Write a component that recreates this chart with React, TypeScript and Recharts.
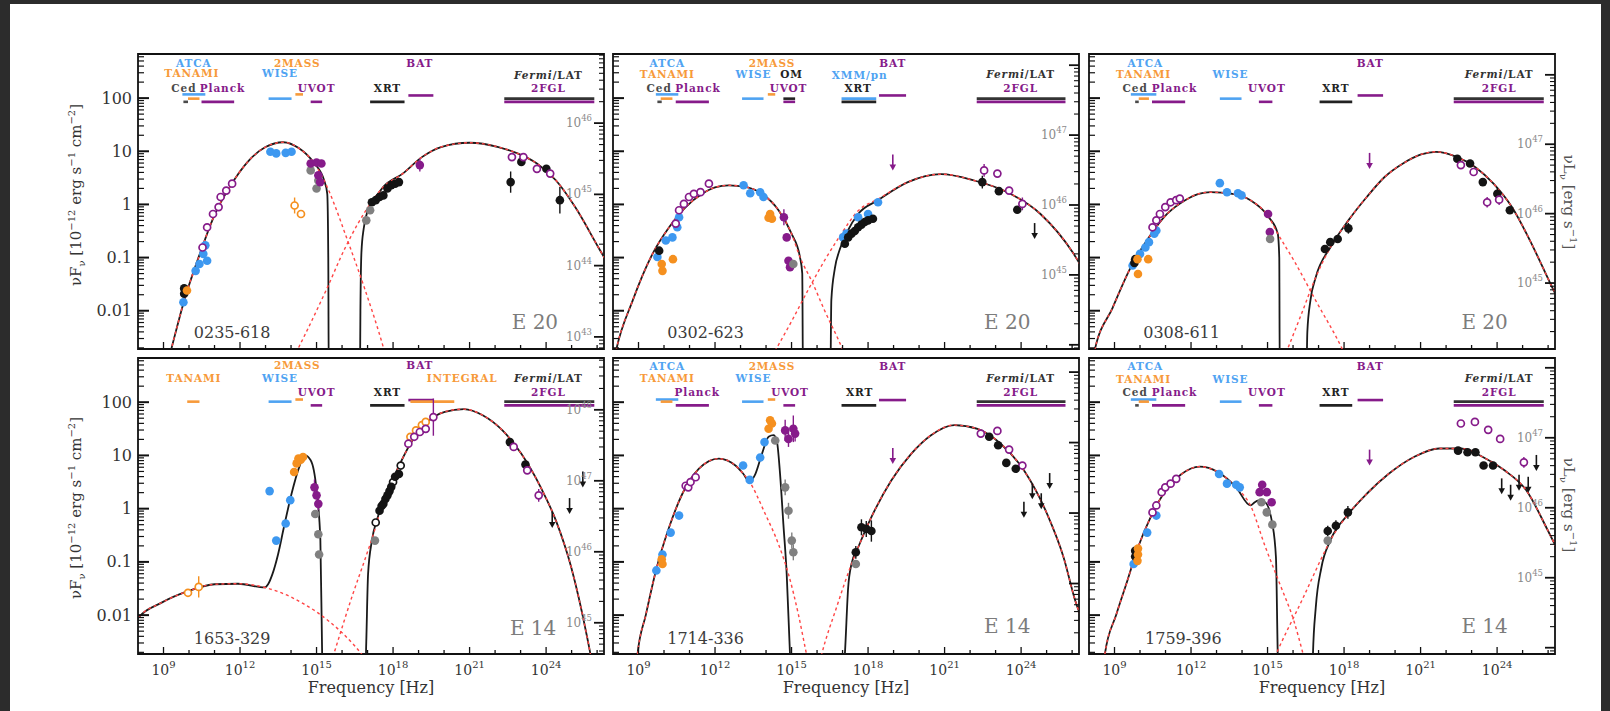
import React from "react";
import {
  ComposedChart,
  ErrorBar,
  Line,
  ReferenceArea,
  ReferenceLine,
  Scatter,
  XAxis,
  YAxis,
} from "recharts";

// [log10 ν (Hz), log10 νFν (1e-12 erg/s/cm²), optional error in dex]
type Pt = [number, number] | [number, number, number];
type Tag = [string, number, number];
type Band = [string, number, number, number];
type Kind =
  | "blue"
  | "orange"
  | "black"
  | "gray"
  | "purple"
  | "purpleOpen"
  | "orangeOpen"
  | "blackOpen"
  | "limBlack"
  | "limPurple";

const SERIF = "'DejaVu Serif', 'Liberation Serif', serif";
const BLUE = "#3d98f0";
const ORANGE = "#f5901f";
const PURPLE = "#861b8a";
const BLACK = "#141414";
const GRAY = "#808080";
const RED = "#ff4545";

const INST_COLOR: Record<string, string> = {
  ATCA: "#4fa3f2",
  TANAMI: "#f79a3a",
  Ced: "#4a4a4a",
  Planck: PURPLE,
  "2MASS": "#f79a3a",
  WISE: "#4fa3f2",
  OM: "#222",
  UVOT: PURPLE,
  BAT: PURPLE,
  "XMM/pn": "#4fa3f2",
  XRT: "#222",
  INTEGRAL: "#f79a3a",
  "Fermi/LAT": "#333",
  "2FGL": PURPLE,
};

const FREQ_DOMAIN: [number, number] = [8.0, 26.27];
const FREQ_TICKS = [9, 10, 11, 12, 13, 14, 15, 16, 17, 18, 19, 20, 21, 22, 23, 24, 25, 26];
const FREQ_LABELS = [9, 12, 15, 18, 21, 24];
const FLUX_LABELS = [-2, -1, 0, 1, 2];

// ---------- 0235-618 ----------
const tlTotal: Pt[] = [
  [9.1, -3.1], [9.29, -2.75], [9.81, -1.81], [10.41, -0.95], [11.0, -0.2], [11.6, 0.33],
  [12.3, 0.8], [13.0, 1.08], [13.7, 1.17], [14.3, 1.06], [14.9, 0.78], [15.3, 0.45],
  [15.42, 0.2], [15.46, -1.0], [15.48, -3.3], [16.7, -3.3], [16.72, -2.0], [16.76, -0.9],
  [16.85, -0.45], [17.02, -0.1], [17.3, 0.12], [17.62, 0.33], [18.38, 0.58], [19.13, 0.89],
  [19.88, 1.08], [21.0, 1.16], [22.13, 1.08], [22.88, 0.96], [23.64, 0.77], [24.39, 0.45],
  [25.14, -0.05], [26.04, -0.8], [26.4, -1.1],
];
const tlSync: Pt[] = [
  [9.1, -3.1], [9.29, -2.75], [9.81, -1.81], [10.41, -0.95], [11.0, -0.2], [11.6, 0.33],
  [12.3, 0.8], [13.0, 1.08], [13.7, 1.17], [14.3, 1.06], [14.9, 0.78], [15.3, 0.45],
  [15.7, 0.0], [16.12, -0.55], [16.87, -1.56], [17.62, -2.69], [17.8, -3.0],
];
const tlIC: Pt[] = [
  [14.0, -3.0], [14.24, -2.75], [14.62, -2.38], [15.37, -1.62], [16.12, -0.82], [16.6, -0.38],
  [17.02, -0.05], [17.62, 0.33], [18.38, 0.58], [19.13, 0.89], [19.88, 1.08], [21.0, 1.16],
  [22.13, 1.08], [22.88, 0.96], [23.64, 0.77], [24.39, 0.45], [25.14, -0.05], [26.04, -0.8],
  [26.4, -1.1],
];
const tlMarks: Partial<Record<Kind, Pt[]>> = {
  blue: [[9.78, -1.84], [10.26, -1.25], [10.41, -1.12], [10.56, -0.93], [10.64, -0.77], [10.71, -1.06],
    [13.19, 0.99], [13.42, 0.96], [13.79, 0.97], [14.02, 0.99]],
  black: [[9.81, -1.58], [9.81, -1.68], [17.17, 0.04], [17.32, 0.08], [17.47, 0.14], [17.62, 0.17],
    [17.78, 0.3], [17.93, 0.36], [18.08, 0.39], [18.23, 0.42], [23.03, 0.8], [24.01, 0.67],
    [22.61, 0.42, 0.2], [24.54, 0.08, 0.25]],
  orange: [[9.92, -1.62]],
  orangeOpen: [[14.14, -0.02, 0.15], [14.39, -0.18]],
  gray: [[14.77, 0.64], [15.0, 0.3], [15.07, 0.45], [17.1, -0.11], [16.95, -0.3]],
  purple: [[14.77, 0.77], [15.0, 0.79], [15.19, 0.77], [15.07, 0.55], [15.14, 0.42], [19.05, 0.74, 0.12]],
  purpleOpen: [[10.53, -0.81], [10.71, -0.43], [10.94, -0.18], [11.16, -0.05], [11.24, 0.14],
    [11.46, 0.26], [11.69, 0.39], [22.66, 0.89], [23.11, 0.89], [23.64, 0.67], [24.16, 0.58]],
};
const tlTags: Tag[] = [
  ["ATCA", 10.19, 2.67], ["TANAMI", 10.11, 2.47], ["Ced", 9.8, 2.19], ["Planck", 11.31, 2.19],
  ["2MASS", 14.24, 2.67], ["WISE", 13.57, 2.47], ["UVOT", 15.0, 2.19], ["BAT", 19.05, 2.67],
  ["XRT", 17.78, 2.19], ["Fermi/LAT", 24.09, 2.43], ["2FGL", 24.09, 2.19],
];
const tlBands: Band[] = [
  ["ATCA", 9.74, 10.64, 2.07], ["TANAMI", 9.96, 10.41, 1.99], ["Ced", 9.78, 9.96, 1.93],
  ["Planck", 10.49, 11.77, 1.93], ["WISE", 13.12, 14.02, 1.99], ["2MASS", 14.17, 14.47, 2.07],
  ["UVOT", 14.77, 15.22, 1.93], ["XRT", 17.1, 18.45, 1.93], ["BAT", 18.6, 19.58, 2.05],
  ["Fermi/LAT", 22.36, 25.89, 1.99], ["2FGL", 22.36, 25.89, 1.93],
];

// ---------- 0302-623 ----------
const tmTotal: Pt[] = [
  [7.9, -3.3], [8.12, -2.75], [8.77, -1.81], [9.55, -0.93], [10.2, -0.43], [10.85, -0.05],
  [11.5, 0.2], [12.0, 0.32], [12.54, 0.36], [13.19, 0.33], [13.84, 0.2], [14.49, -0.11],
  [15.0, -0.55], [15.33, -0.99], [15.42, -1.3], [15.45, -3.3], [16.52, -3.3], [16.56, -1.8],
  [16.7, -1.2], [16.89, -0.85], [17.2, -0.5], [17.61, -0.18], [18.39, 0.08], [19.56, 0.42],
  [20.86, 0.57], [22.16, 0.45], [23.46, 0.23], [24.76, -0.18], [26.06, -0.93], [26.4, -1.2],
];
const tmSync: Pt[] = [
  [7.9, -3.3], [8.12, -2.75], [8.77, -1.81], [9.55, -0.93], [10.2, -0.43], [10.85, -0.05],
  [11.5, 0.2], [12.0, 0.32], [12.54, 0.36], [13.19, 0.33], [13.84, 0.2], [14.49, -0.11],
  [15.0, -0.55], [15.33, -0.99], [15.8, -1.45], [16.3, -2.0], [17.02, -2.75], [17.3, -3.1],
];
const tmIC: Pt[] = [
  [14.0, -3.05], [14.36, -2.75], [15.0, -2.2], [15.66, -1.6], [16.3, -1.05], [16.89, -0.6],
  [17.61, -0.12], [18.39, 0.1], [19.56, 0.42], [20.86, 0.57], [22.16, 0.45], [23.46, 0.23],
  [24.76, -0.18], [26.06, -0.93], [26.4, -1.2],
];
const tmMarks: Partial<Record<Kind, Pt[]>> = {
  blue: [[9.74, -0.99], [10.07, -0.68], [10.33, -0.62], [10.52, -0.43], [10.59, -0.24],
    [13.12, 0.36], [13.38, 0.21], [13.77, 0.23], [13.9, 0.14], [17.02, -0.62], [17.15, -0.55],
    [17.61, -0.24], [18.0, -0.18], [18.39, 0.04]],
  black: [[9.81, -0.87], [17.09, -0.74], [17.22, -0.62], [17.35, -0.55], [17.48, -0.5],
    [17.61, -0.43], [17.74, -0.38], [17.87, -0.33], [18.0, -0.3], [18.19, -0.27],
    [22.48, 0.42, 0.12], [23.13, 0.25], [23.85, -0.1]],
  orange: [[9.91, -1.12], [9.94, -1.25], [10.35, -1.03], [14.16, -0.18], [14.23, -0.27], [14.1, -0.25]],
  purple: [[14.7, -0.24, 0.15], [14.81, -0.62], [14.88, -1.06], [14.94, -1.18]],
  gray: [[15.07, -1.12]],
  purpleOpen: [[10.46, -0.36], [10.59, -0.11], [10.78, 0.01], [10.98, 0.14], [11.17, 0.2],
    [11.43, 0.23], [11.76, 0.39], [23.07, 0.58], [23.53, 0.26], [24.05, 0.01, 0.12], [22.55, 0.64, 0.12]],
  limPurple: [[18.97, 0.77]],
  limBlack: [[24.53, -0.52]],
};
const tmTags: Tag[] = [
  ["ATCA", 10.13, 2.67], ["TANAMI", 10.13, 2.45], ["Ced", 9.81, 2.19], ["Planck", 11.33, 2.19],
  ["2MASS", 14.23, 2.67], ["WISE", 13.51, 2.45], ["OM", 15.0, 2.45], ["UVOT", 14.88, 2.19],
  ["BAT", 18.97, 2.67], ["XMM/pn", 17.67, 2.43], ["XRT", 17.61, 2.19],
  ["Fermi/LAT", 23.98, 2.45], ["2FGL", 23.98, 2.19],
];
const tmBands: Band[] = [
  ["ATCA", 9.68, 10.56, 2.07], ["TANAMI", 9.87, 10.33, 1.99], ["Ced", 9.74, 9.91, 1.93],
  ["Planck", 10.46, 11.76, 1.93], ["WISE", 13.06, 13.9, 1.99], ["2MASS", 14.07, 14.36, 2.07],
  ["OM", 14.68, 15.14, 1.99], ["UVOT", 14.68, 15.14, 1.93], ["XMM/pn", 16.96, 18.32, 1.99],
  ["XRT", 16.96, 18.32, 1.93], ["BAT", 18.43, 19.49, 2.05], ["Fermi/LAT", 22.26, 25.74, 1.99],
  ["2FGL", 22.26, 25.74, 1.93],
];

// ---------- 0308-611 ----------
const trTotal: Pt[] = [
  [8.0, -3.3], [8.22, -2.75], [8.93, -1.94], [9.64, -1.18], [10.35, -0.62], [11.06, -0.18],
  [11.77, 0.08], [12.3, 0.2], [12.77, 0.23], [13.62, 0.2], [14.33, 0.08], [15.05, -0.24],
  [15.4, -0.55], [15.46, -1.0], [15.48, -3.3], [16.52, -3.3], [16.56, -2.4], [16.68, -1.81],
  [16.89, -1.37], [17.46, -0.81], [18.17, -0.3], [18.89, 0.14], [19.6, 0.52], [20.31, 0.77],
  [21.02, 0.94], [21.59, 0.99], [22.44, 0.89], [23.15, 0.7], [23.86, 0.39], [24.58, -0.05],
  [25.29, -0.68], [26.07, -1.47], [26.4, -1.8],
];
const trSync: Pt[] = [
  [8.0, -3.3], [8.22, -2.75], [8.93, -1.94], [9.64, -1.18], [10.35, -0.62], [11.06, -0.18],
  [11.77, 0.08], [12.3, 0.2], [12.77, 0.23], [13.62, 0.2], [14.33, 0.08], [15.05, -0.24],
  [15.4, -0.55], [16.04, -1.06], [16.89, -1.81], [17.96, -2.75], [18.2, -3.0],
];
const trIC: Pt[] = [
  [15.55, -3.0], [15.76, -2.75], [16.33, -2.06], [16.89, -1.37], [17.46, -0.81], [18.17, -0.3],
  [18.89, 0.14], [19.6, 0.52], [20.31, 0.77], [21.02, 0.94], [21.59, 0.99], [22.44, 0.89],
  [23.15, 0.7], [23.86, 0.39], [24.58, -0.05], [25.29, -0.68], [26.07, -1.47], [26.4, -1.8],
];
const trMarks: Partial<Record<Kind, Pt[]>> = {
  blue: [[9.71, -1.15], [10.0, -0.93], [10.21, -0.81], [10.35, -0.71], [10.56, -0.55], [10.64, -0.49],
    [13.13, 0.4], [13.41, 0.23], [13.84, 0.21], [13.98, 0.17]],
  black: [[9.81, -1.03], [9.78, -1.1], [17.25, -0.84], [17.46, -0.71], [17.75, -0.65],
    [18.17, -0.45, 0.1], [22.44, 0.86], [22.94, 0.77], [23.44, 0.42], [24.01, 0.2, 0.12], [24.5, -0.11]],
  orange: [[9.9, -1.03], [9.92, -1.31], [10.32, -1.03]],
  purpleOpen: [[10.49, -0.43], [10.64, -0.3], [10.78, -0.18], [10.99, -0.05], [11.2, 0.04],
    [11.42, 0.08], [11.56, 0.11], [22.58, 0.74], [23.08, 0.61], [23.61, 0.04, 0.1], [24.08, 0.09, 0.1]],
  purple: [[15.02, -0.18], [15.09, -0.52]],
  gray: [[15.1, -0.65]],
  limPurple: [[19.0, 0.8]],
};
const trTags: Tag[] = [
  ["ATCA", 10.21, 2.67], ["TANAMI", 10.14, 2.45], ["Ced", 9.81, 2.19], ["Planck", 11.35, 2.19],
  ["WISE", 13.55, 2.45], ["UVOT", 14.97, 2.19], ["BAT", 19.03, 2.67], ["XRT", 17.68, 2.19],
  ["Fermi/LAT", 24.08, 2.45], ["2FGL", 24.08, 2.19],
];
const trBands: Band[] = [
  ["ATCA", 9.64, 10.64, 2.07], ["TANAMI", 9.95, 10.35, 1.99], ["Ced", 9.81, 9.95, 1.93],
  ["Planck", 10.47, 11.77, 1.93], ["WISE", 13.13, 13.98, 1.99], ["UVOT", 14.66, 15.19, 1.93],
  ["XRT", 17.04, 18.32, 1.93], ["BAT", 18.53, 19.53, 2.05], ["Fermi/LAT", 22.3, 25.83, 1.99],
  ["2FGL", 22.3, 25.83, 1.93],
];

// ---------- 1653-329 ----------
const blTotal: Pt[] = [
  [7.9, -2.12], [8.01, -2.05], [8.91, -1.77], [9.96, -1.55], [11.01, -1.42], [11.92, -1.41],
  [12.97, -1.48], [13.1, -1.42], [13.27, -1.23], [13.49, -0.86], [13.72, -0.35], [14.02, 0.28],
  [14.32, 0.78], [14.54, 1.0], [14.77, 0.91], [15.0, 0.35], [15.15, -0.59], [15.22, -2.74],
  [15.25, -3.3], [16.9, -3.3], [16.95, -2.5], [17.02, -1.23], [17.17, -0.6], [17.4, -0.16],
  [17.62, 0.15], [18.08, 0.65], [18.68, 1.22], [19.28, 1.6], [20.03, 1.82], [20.78, 1.87],
  [21.53, 1.75], [22.29, 1.47], [23.03, 1.03], [23.79, 0.4], [24.39, -0.23], [24.99, -1.11],
  [25.59, -2.37], [25.74, -2.74], [25.9, -3.2],
];
const blSync: Pt[] = [
  [7.9, -2.12], [8.01, -2.05], [8.91, -1.77], [9.96, -1.55], [11.01, -1.42], [11.92, -1.41],
  [12.97, -1.48], [13.5, -1.56], [14.0, -1.66], [14.5, -1.79], [15.0, -1.94], [15.5, -2.12],
  [16.0, -2.33], [16.5, -2.58], [17.0, -2.87],
];
const blIC: Pt[] = [
  [15.5, -3.0], [15.67, -2.74], [16.42, -1.61], [16.9, -0.95], [17.25, -0.45], [17.62, 0.15],
  [18.08, 0.65], [18.68, 1.22], [19.28, 1.6], [20.03, 1.82], [20.78, 1.87], [21.53, 1.75],
  [22.29, 1.47], [23.03, 1.03], [23.79, 0.4], [24.39, -0.23], [24.99, -1.11], [25.59, -2.37],
  [25.74, -2.74], [25.9, -3.2],
];
const blMarks: Partial<Record<Kind, Pt[]>> = {
  orangeOpen: [[9.96, -1.58, 0.06], [10.38, -1.47, 0.2], [18.68, 1.35], [18.9, 1.47], [19.13, 1.57], [19.28, 1.63]],
  blue: [[13.16, 0.33], [13.42, -0.6], [13.79, -0.28], [13.97, 0.16]],
  orange: [[14.12, 0.69], [14.22, 0.85], [14.29, 0.94], [14.38, 0.92], [14.47, 0.97]],
  purple: [[14.92, 0.4, 0.15], [15.0, 0.25], [15.07, 0.09, 0.12]],
  gray: [[14.95, -0.1], [15.07, -0.48], [15.1, -0.86], [17.29, -0.6]],
  blackOpen: [[17.32, -0.26], [18.0, 0.5], [18.3, 0.81]],
  black: [[17.47, -0.04], [17.55, 0.05], [17.62, 0.09], [17.7, 0.18], [17.78, 0.25], [17.86, 0.33],
    [17.93, 0.41], [18.08, 0.6], [18.23, 0.65], [22.58, 1.25], [23.19, 0.83]],
  purpleOpen: [[18.6, 1.22], [18.83, 1.35], [19.05, 1.44], [19.28, 1.5], [19.58, 1.72, 0.35],
    [22.73, 1.16], [23.26, 0.72], [23.71, 0.25, 0.12]],
  limBlack: [[24.24, -0.23], [24.92, 0.03], [25.44, 0.53]],
};
const blTags: Tag[] = [
  ["TANAMI", 10.19, 2.45], ["2MASS", 14.24, 2.7], ["WISE", 13.57, 2.45], ["UVOT", 15.0, 2.19],
  ["BAT", 19.05, 2.7], ["INTEGRAL", 20.71, 2.45], ["XRT", 17.78, 2.19],
  ["Fermi/LAT", 24.09, 2.45], ["2FGL", 24.09, 2.19],
];
const blBands: Band[] = [
  ["TANAMI", 9.93, 10.41, 2.01], ["WISE", 13.12, 14.02, 2.01], ["2MASS", 14.17, 14.47, 2.05],
  ["UVOT", 14.77, 15.22, 1.94], ["XRT", 17.1, 18.45, 1.94], ["BAT", 18.6, 19.58, 2.04],
  ["INTEGRAL", 18.68, 20.4, 2.01], ["Fermi/LAT", 22.36, 25.89, 2.01], ["2FGL", 22.36, 25.89, 1.94],
];

// ---------- 1714-336 ----------
const bmTotal: Pt[] = [
  [8.85, -3.3], [8.96, -2.74], [9.29, -1.99], [9.68, -1.17], [10.2, -0.35], [10.72, 0.28],
  [11.37, 0.75], [12.15, 0.94], [12.8, 0.81], [13.1, 0.66], [13.32, 0.53], [13.45, 0.55],
  [13.58, 0.65], [13.84, 1.03], [14.1, 1.35], [14.29, 1.38], [14.42, 1.28], [14.55, 0.65],
  [14.68, -0.29], [14.81, -1.23], [14.94, -2.74], [15.0, -3.3], [17.0, -3.3], [17.09, -2.74],
  [17.22, -1.48], [17.35, -1.04], [17.61, -0.73], [18.13, -0.16], [18.91, 0.53], [19.69, 1.03],
  [20.47, 1.38], [21.38, 1.57], [22.29, 1.5], [23.2, 1.22], [24.11, 0.72], [25.02, -0.1],
  [25.67, -0.92], [26.13, -1.74], [26.4, -2.1],
];
const bmSync: Pt[] = [
  [8.85, -3.3], [8.96, -2.74], [9.29, -1.99], [9.68, -1.17], [10.2, -0.35], [10.72, 0.28],
  [11.37, 0.75], [12.15, 0.94], [12.8, 0.81], [13.1, 0.66], [13.32, 0.53], [13.97, -0.1],
  [14.49, -0.67], [14.88, -1.23], [15.27, -1.99], [15.59, -2.74], [15.75, -3.1],
];
const bmIC: Pt[] = [
  [16.0, -3.1], [16.18, -2.74], [16.76, -1.86], [17.35, -1.04], [17.61, -0.73], [18.13, -0.16],
  [18.91, 0.53], [19.69, 1.03], [20.47, 1.38], [21.38, 1.57], [22.29, 1.5], [23.2, 1.22],
  [24.11, 0.72], [25.02, -0.1], [25.67, -0.92], [26.13, -1.74], [26.4, -2.1],
];
const bmMarks: Partial<Record<Kind, Pt[]>> = {
  blue: [[9.7, -1.16], [9.94, -0.86], [10.26, -0.45], [10.59, -0.13], [13.1, 0.81], [13.36, 0.54],
    [13.77, 0.96], [13.94, 1.25]],
  orange: [[9.91, -0.95], [9.94, -1.04], [14.1, 1.5], [14.23, 1.6], [14.16, 1.66]],
  purpleOpen: [[10.85, 0.43], [10.95, 0.4], [11.04, 0.5], [11.24, 0.59], [22.42, 1.41],
    [23.07, 1.46], [23.53, 1.11], [24.05, 0.81]],
  gray: [[14.36, 1.28], [14.75, 0.4, 0.15], [14.88, -0.04, 0.15], [15.01, -0.6, 0.15], [15.07, -0.82, 0.15], [17.52, -1.04]],
  purple: [[14.75, 1.47, 0.2], [14.88, 1.31, 0.15], [15.07, 1.5, 0.25], [15.14, 1.41, 0.15]],
  black: [[17.52, -0.82, 0.12], [17.74, -0.35, 0.15], [17.93, -0.38, 0.15], [18.13, -0.42, 0.2],
    [22.75, 1.35], [23.1, 1.19], [23.42, 0.86], [23.79, 0.75]],
  limPurple: [[18.97, 0.97]],
  limBlack: [[24.11, -0.04], [24.44, 0.31], [24.79, 0.12], [25.12, 0.5]],
};
const bmTags: Tag[] = [
  ["ATCA", 10.13, 2.68], ["TANAMI", 10.13, 2.45], ["Planck", 11.3, 2.19], ["2MASS", 14.23, 2.68],
  ["WISE", 13.51, 2.45], ["UVOT", 14.94, 2.19], ["BAT", 18.97, 2.68], ["XRT", 17.67, 2.19],
  ["Fermi/LAT", 23.98, 2.45], ["2FGL", 23.98, 2.19],
];
const bmBands: Band[] = [
  ["ATCA", 9.68, 10.56, 2.05], ["TANAMI", 9.87, 10.33, 2.01], ["Planck", 10.46, 11.76, 1.94],
  ["WISE", 13.06, 13.9, 2.01], ["2MASS", 14.07, 14.36, 2.05], ["UVOT", 14.68, 15.14, 1.94],
  ["XRT", 16.96, 18.32, 1.94], ["BAT", 18.43, 19.49, 2.04], ["Fermi/LAT", 22.26, 25.74, 2.01],
  ["2FGL", 22.26, 25.74, 1.94],
];

// ---------- 1759-396 ----------
const brTotal: Pt[] = [
  [8.5, -3.3], [8.62, -2.74], [9.07, -1.99], [9.5, -1.36], [9.92, -0.73], [10.35, -0.23],
  [10.92, 0.28], [11.63, 0.65], [12.34, 0.79], [13.05, 0.69], [13.77, 0.4], [14.33, 0.06],
  [14.5, 0.12], [14.62, 0.15], [14.9, 0.12], [15.19, -0.29], [15.33, -0.92], [15.4, -2.74],
  [15.43, -3.3], [16.75, -3.3], [16.78, -2.74], [16.89, -1.86], [17.11, -1.11], [17.46, -0.6],
  [18.17, -0.1], [18.89, 0.28], [19.74, 0.65], [20.74, 0.97], [21.73, 1.13], [22.58, 1.13],
  [23.44, 0.97], [24.29, 0.72], [25.15, 0.34], [26.0, -0.42], [26.4, -0.8],
];
const brSync: Pt[] = [
  [8.5, -3.3], [8.62, -2.74], [9.07, -1.99], [9.5, -1.36], [9.92, -0.73], [10.35, -0.23],
  [10.92, 0.28], [11.63, 0.65], [12.34, 0.79], [13.05, 0.69], [13.77, 0.4], [14.33, 0.06],
  [14.9, -0.7], [15.47, -1.4], [16.04, -2.12], [16.4, -2.74], [16.6, -3.1],
];
const brIC: Pt[] = [
  [15.1, -3.0], [15.33, -2.74], [16.33, -1.74], [17.32, -0.73], [17.46, -0.6], [18.17, -0.1],
  [18.89, 0.28], [19.74, 0.65], [20.74, 0.97], [21.73, 1.13], [22.58, 1.13], [23.44, 0.97],
  [24.29, 0.72], [25.15, 0.34], [26.0, -0.42], [26.4, -0.8],
];
const brMarks: Partial<Record<Kind, Pt[]>> = {
  blue: [[9.75, -1.04], [10.28, -0.45], [10.64, -0.13], [13.1, 0.65], [13.41, 0.47], [13.77, 0.45], [13.91, 0.4]],
  black: [[9.81, -0.79], [9.81, -0.9], [17.36, -0.42, 0.1], [17.68, -0.32, 0.1], [18.15, -0.07, 0.12],
    [22.47, 1.09], [22.84, 1.06], [23.15, 1.06], [23.47, 0.81], [23.84, 0.81]],
  orange: [[9.92, -0.86], [9.9, -0.98], [9.92, -0.75]],
  purpleOpen: [[10.49, -0.07], [10.64, 0.06], [10.85, 0.31], [10.99, 0.4], [11.2, 0.47], [11.42, 0.56],
    [22.58, 1.6], [23.13, 1.63], [23.65, 1.48], [24.12, 1.31], [25.05, 0.87, 0.1]],
  purple: [[14.79, 0.45], [14.69, 0.31], [14.97, 0.31], [15.16, 0.12]],
  gray: [[14.76, 0.12], [14.97, -0.07], [15.19, -0.3], [17.36, -0.6]],
  limPurple: [[19.0, 0.94]],
  limBlack: [[24.18, 0.4], [24.53, 0.28], [24.86, 0.47], [25.22, 0.43], [25.54, 0.84]],
};
const brTags: Tag[] = [
  ["ATCA", 10.21, 2.68], ["TANAMI", 10.14, 2.43], ["Ced", 9.81, 2.19], ["Planck", 11.35, 2.19],
  ["WISE", 13.55, 2.43], ["UVOT", 14.97, 2.19], ["BAT", 19.03, 2.68], ["XRT", 17.68, 2.19],
  ["Fermi/LAT", 24.08, 2.45], ["2FGL", 24.08, 2.19],
];
const brBands: Band[] = [
  ["ATCA", 9.64, 10.64, 2.05], ["TANAMI", 9.95, 10.35, 2.01], ["Ced", 9.81, 9.95, 1.94],
  ["Planck", 10.47, 11.77, 1.94], ["WISE", 13.13, 13.98, 2.01], ["UVOT", 14.66, 15.19, 1.94],
  ["XRT", 17.04, 18.32, 1.94], ["BAT", 18.53, 19.53, 2.04], ["Fermi/LAT", 22.3, 25.83, 2.01],
  ["2FGL", 22.3, 25.83, 1.94],
];

type PanelCfg = {
  name: string;
  era: string;
  left: number;
  top: number;
  height: number;
  flux: [number, number];
  lum: [number, number];
  lumLabels: number[];
  showX: boolean;
  showY: boolean;
  total: Pt[];
  sync: Pt[];
  ic: Pt[];
  marks: Partial<Record<Kind, Pt[]>>;
  tags: Tag[];
  bands: Band[];
  nameAt: [number, number];
  eraAt: [number, number];
};

const PANELS: PanelCfg[] = [
  { name: "0235-618", era: "E 20", left: 138, top: 54, height: 295, flux: [-2.72, 2.83], lum: [42.83, 46.97],
    lumLabels: [43, 44, 45, 46], showX: false, showY: true, total: tlTotal, sync: tlSync, ic: tlIC, marks: tlMarks,
    tags: tlTags, bands: tlBands, nameAt: [11.69, -2.41], eraAt: [23.56, -2.22] },
  { name: "0302-623", era: "E 20", left: 613, top: 54, height: 295, flux: [-2.72, 2.83], lum: [43.94, 48.16],
    lumLabels: [45, 46, 47], showX: false, showY: false, total: tmTotal, sync: tmSync, ic: tmIC, marks: tmMarks,
    tags: tmTags, bands: tmBands, nameAt: [11.63, -2.41], eraAt: [23.46, -2.22] },
  { name: "0308-611", era: "E 20", left: 1089, top: 54, height: 295, flux: [-2.72, 2.83], lum: [44.05, 48.3],
    lumLabels: [45, 46, 47], showX: false, showY: false, total: trTotal, sync: trSync, ic: trIC, marks: trMarks,
    tags: trTags, bands: trBands, nameAt: [11.63, -2.41], eraAt: [23.51, -2.22] },
  { name: "1653-329", era: "E 14", left: 138, top: 358, height: 296, flux: [-2.73, 2.83], lum: [44.56, 48.73],
    lumLabels: [45, 46, 47, 48], showX: true, showY: true, total: blTotal, sync: blSync, ic: blIC, marks: blMarks,
    tags: blTags, bands: blBands, nameAt: [11.69, -2.43], eraAt: [23.49, -2.24] },
  { name: "1714-336", era: "E 14", left: 613, top: 358, height: 296, flux: [-2.73, 2.83], lum: [44.0, 48.2],
    lumLabels: [], showX: true, showY: false, total: bmTotal, sync: bmSync, ic: bmIC, marks: bmMarks,
    tags: bmTags, bands: bmBands, nameAt: [11.63, -2.43], eraAt: [23.46, -2.21] },
  { name: "1759-396", era: "E 14", left: 1089, top: 358, height: 296, flux: [-2.73, 2.83], lum: [43.91, 48.14],
    lumLabels: [45, 46, 47], showX: true, showY: false, total: brTotal, sync: brSync, ic: brIC, marks: brMarks,
    tags: brTags, bands: brBands, nameAt: [11.7, -2.43], eraAt: [23.51, -2.21] },
];

const KIND_STYLE: Record<Kind, { color: string; shape: "dot" | "open" | "limit" }> = {
  blue: { color: BLUE, shape: "dot" },
  orange: { color: ORANGE, shape: "dot" },
  black: { color: BLACK, shape: "dot" },
  gray: { color: GRAY, shape: "dot" },
  purple: { color: PURPLE, shape: "dot" },
  purpleOpen: { color: PURPLE, shape: "open" },
  orangeOpen: { color: ORANGE, shape: "open" },
  blackOpen: { color: BLACK, shape: "open" },
  limBlack: { color: BLACK, shape: "limit" },
  limPurple: { color: PURPLE, shape: "limit" },
};

const W = 466;
const ML = 100;
const MR = 12;
const MT = 6;
const MB = 50;
const AX = 2; // thickness given to each axis band (Recharts skips axes of zero size)

function logTicks(lo: number, hi: number) {
  const out: number[] = [];
  for (let d = Math.floor(lo); d <= Math.ceil(hi); d++) {
    for (let k = 1; k < 10; k++) {
      const v = d + Math.log10(k);
      if (v > lo + 0.005 && v < hi - 0.005) out.push(v);
    }
  }
  return out;
}

const isInt = (v: number) => Math.abs(v - Math.round(v)) < 1e-6;
const toRows = (pts: Pt[]) => pts.map((p) => ({ x: p[0], y: p[1], e: p[2] ?? 0 }));

function fluxText(v: number) {
  const r = Math.round(v);
  return r >= 0 ? String(10 ** r) : (10 ** r).toFixed(-r);
}

function markShape(kind: Kind) {
  const { color, shape } = KIND_STYLE[kind];
  return (p: any) => {
    if (p.cx == null || p.cy == null) return <g />;
    const { cx, cy } = p;
    if (shape === "dot") return <circle cx={cx} cy={cy} r={4.3} fill={color} />;
    if (shape === "open")
      return <circle cx={cx} cy={cy} r={3.5} fill="#fff" stroke={color} strokeWidth={1.7} />;
    return (
      <g>
        <line x1={cx} y1={cy - 9} x2={cx} y2={cy + 2} stroke={color} strokeWidth={1.6} />
        <path d={`M${cx - 3.3},${cy + 1} L${cx + 3.3},${cy + 1} L${cx},${cy + 7} Z`} fill={color} />
      </g>
    );
  };
}

const tagShape = (p: any) => {
  if (p.cx == null) return <g />;
  const t: string = p.payload.t;
  const fill = INST_COLOR[t] ?? "#333";
  const common = {
    x: p.cx,
    y: p.cy,
    textAnchor: "middle" as const,
    dominantBaseline: "central" as const,
    fill,
    fontFamily: SERIF,
    fontSize: 10.5,
    letterSpacing: 0.9,
    fontWeight: "bold" as const,
  };
  if (t === "Fermi/LAT")
    return (
      <text {...common}>
        <tspan fontStyle="italic">Fermi</tspan>/LAT
      </text>
    );
  return <text {...common}>{t}</text>;
};

const nameShape = (p: any) =>
  p.cx == null ? <g /> : (
    <text x={p.cx} y={p.cy} textAnchor="middle" dominantBaseline="central" fill="#3c3c3c"
      fontFamily={SERIF} fontSize={16}>{p.payload.t}</text>
  );

const eraShape = (p: any) =>
  p.cx == null ? <g /> : (
    <text x={p.cx} y={p.cy} textAnchor="middle" dominantBaseline="central" fill="#7c7c7c"
      fontFamily={SERIF} fontSize={20}>{p.payload.t}</text>
  );

function Panel({ cfg }: { cfg: PanelCfg }) {
  const H = cfg.height;
  const plotL = ML;
  const plotR = ML + W;
  const plotB = MT + H;
  const fluxTicks = logTicks(cfg.flux[0], cfg.flux[1]);
  const lumTicks = logTicks(cfg.lum[0], cfg.lum[1]);

  const xTick = (p: any) => {
    const v = p.payload.value as number;
    const major = FREQ_LABELS.includes(v);
    return (
      <g>
        <line x1={p.x} x2={p.x} y1={plotB} y2={plotB - (major ? 7 : 4)} stroke="#111" strokeWidth={1.3} />
        {cfg.showX && major && (
          <text x={p.x} y={plotB + 21} textAnchor="middle" fill="#333" fontFamily={SERIF} fontSize={14}>
            10<tspan dy={-7} fontSize={10}>{v}</tspan>
          </text>
        )}
      </g>
    );
  };

  const yTick = (p: any) => {
    const v = p.payload.value as number;
    const major = isInt(v) && FLUX_LABELS.includes(Math.round(v));
    return (
      <g>
        <line x1={plotL} x2={plotL + (major ? 11 : 6)} y1={p.y} y2={p.y} stroke="#111" strokeWidth={major ? 2 : 1.2} />
        {cfg.showY && major && (
          <text x={plotL - 6} y={p.y + 5.5} textAnchor="end" fill="#333" fontFamily={SERIF} fontSize={16}>
            {fluxText(v)}
          </text>
        )}
      </g>
    );
  };

  const lumTick = (p: any) => {
    const v = p.payload.value as number;
    const major = isInt(v);
    const labelled = major && cfg.lumLabels.includes(Math.round(v));
    return (
      <g>
        <line x1={plotR} x2={plotR - (major ? 10 : 5)} y1={p.y} y2={p.y} stroke="#111" strokeWidth={major ? 1.8 : 1.1} />
        {labelled && (
          <text x={plotR - 12} y={p.y + 4} textAnchor="end" fill="#8a8a8a" fontFamily={SERIF} fontSize={12}>
            10<tspan dy={-6} fontSize={8.5}>{Math.round(v)}</tspan>
          </text>
        )}
      </g>
    );
  };

  const kinds = Object.keys(cfg.marks) as Kind[];

  return (
    <div style={{ position: "absolute", left: cfg.left - ML, top: cfg.top - MT }}>
      <ComposedChart
        width={W + ML + MR}
        height={H + MT + MB}
        margin={{ top: MT, right: MR - AX, bottom: MB - AX, left: ML - AX }}
      >
        <XAxis dataKey="x" type="number" domain={FREQ_DOMAIN} allowDataOverflow ticks={FREQ_TICKS}
          interval={0} height={AX} axisLine={false} tickLine={false} tick={xTick} />
        <YAxis yAxisId="f" dataKey="y" type="number" domain={cfg.flux} allowDataOverflow ticks={fluxTicks}
          interval={0} width={AX} axisLine={false} tickLine={false} tick={yTick} />
        <YAxis yAxisId="lum" orientation="right" type="number" domain={cfg.lum} allowDataOverflow ticks={lumTicks}
          interval={0} width={AX} axisLine={false} tickLine={false} tick={lumTick} />
        <ReferenceArea yAxisId="f" x1={FREQ_DOMAIN[0]} x2={FREQ_DOMAIN[1]} y1={cfg.flux[0]} y2={cfg.flux[1]}
          fill="none" stroke="#111" strokeWidth={1.8} ifOverflow="visible" />
        {cfg.bands.map(([inst, a, b, y], i) => (
          <ReferenceLine key={`band-${i}`} yAxisId="f" segment={[{ x: a, y }, { x: b, y }]}
            stroke={INST_COLOR[inst]} strokeWidth={2.6} ifOverflow="visible" />
        ))}
        <Line yAxisId="f" data={toRows(cfg.total)} dataKey="y" type="monotone" stroke="#1a1a1a"
          strokeWidth={1.8} dot={false} activeDot={false} isAnimationActive={false} />
        <Line yAxisId="f" data={toRows(cfg.sync)} dataKey="y" type="monotone" stroke={RED}
          strokeWidth={1.4} strokeDasharray="3 3" dot={false} activeDot={false} isAnimationActive={false} />
        <Line yAxisId="f" data={toRows(cfg.ic)} dataKey="y" type="monotone" stroke={RED}
          strokeWidth={1.4} strokeDasharray="3 3" dot={false} activeDot={false} isAnimationActive={false} />
        {kinds.map((k) => (
          <Scatter key={k} yAxisId="f" data={toRows(cfg.marks[k] ?? [])} shape={markShape(k)} isAnimationActive={false}>
            <ErrorBar dataKey="e" direction="y" width={0} stroke={KIND_STYLE[k].color} strokeWidth={1.4} />
          </Scatter>
        ))}
        <Scatter yAxisId="f" data={cfg.tags.map(([t, x, y]) => ({ t, x, y }))} shape={tagShape} isAnimationActive={false} />
        <Scatter yAxisId="f" data={[{ t: cfg.name, x: cfg.nameAt[0], y: cfg.nameAt[1] }]} shape={nameShape} isAnimationActive={false} />
        <Scatter yAxisId="f" data={[{ t: cfg.era, x: cfg.eraAt[0], y: cfg.eraAt[1] }]} shape={eraShape} isAnimationActive={false} />
      </ComposedChart>
    </div>
  );
}

const titleStyle: React.CSSProperties = {
  position: "absolute",
  whiteSpace: "nowrap",
  fontFamily: SERIF,
  color: "#333",
  lineHeight: 1,
};

function FluxTitle({ cy }: { cy: number }) {
  return (
    <div style={{ ...titleStyle, left: 77, top: cy, fontSize: 15, transform: "translate(-50%, -50%) rotate(-90deg)" }}>
      νF<sub style={{ fontSize: 10 }}>ν</sub> [10<sup style={{ fontSize: 10 }}>−12</sup> erg s
      <sup style={{ fontSize: 10 }}>−1</sup> cm<sup style={{ fontSize: 10 }}>−2</sup>]
    </div>
  );
}

function LumTitle({ cy }: { cy: number }) {
  return (
    <div style={{ ...titleStyle, left: 1568, top: cy, fontSize: 15, color: "#555", transform: "translate(-50%, -50%) rotate(90deg)" }}>
      νL<sub style={{ fontSize: 10 }}>ν</sub> [erg s<sup style={{ fontSize: 10 }}>−1</sup>]
    </div>
  );
}

function FreqTitle({ cx }: { cx: number }) {
  return (
    <div style={{ ...titleStyle, left: cx, top: 680, fontSize: 16, transform: "translateX(-50%)" }}>
      Frequency [Hz]
    </div>
  );
}

export default function App() {
  return (
    <div style={{ position: "absolute", left: 0, top: 0, width: 1610, height: 711, background: "#2c2c2c", overflow: "hidden" }}>
      <div style={{ position: "absolute", left: 10, top: 4, width: 1591, height: 707, background: "#fff" }} />
      {PANELS.map((p) => (
        <Panel key={p.name} cfg={p} />
      ))}
      <FluxTitle cy={195} />
      <FluxTitle cy={508} />
      <LumTitle cy={202} />
      <LumTitle cy={505} />
      <FreqTitle cx={138 + W / 2} />
      <FreqTitle cx={613 + W / 2} />
      <FreqTitle cx={1089 + W / 2} />
    </div>
  );
}
